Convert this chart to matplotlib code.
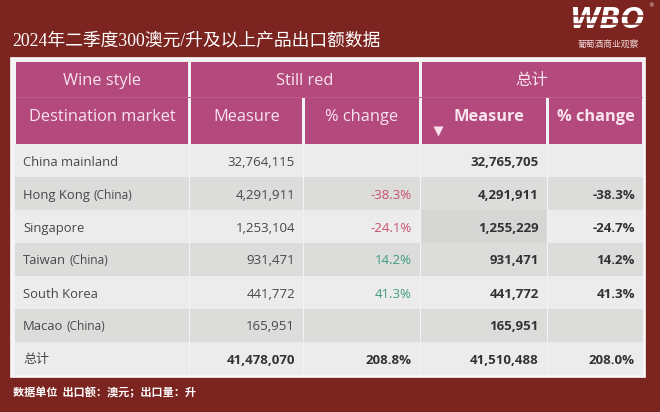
import matplotlib
matplotlib.use('Agg')
import matplotlib.pyplot as plt
from matplotlib.patches import Rectangle

# data
markets = ['China mainland', 'Hong Kong', 'Singapore', 'Taiwan', 'South Korea', 'Macao']
market_suffix = ['', '(China)', '', '(China)', '', '(China)']
red_measure = [32764115, 4291911, 1253104, 931471, 441772, 165951]
red_change = [None, -38.3, -24.1, 14.2, 41.3, None]
total_measure = [32765705, 4291911, 1255229, 931471, 441772, 165951]
total_change = [None, -38.3, -24.7, 14.2, 41.3, None]
sum_label = '总计'
sum_red_measure = 41478070
sum_red_change = 208.8
sum_total_measure = 41510488
sum_total_change = 208.0

title = '2024年二季度300澳元/升及以上产品出口额数据'
footnote = '数据单位  出口额：澳元；出口量：升'

# colours
bg = '#7c2520'
panel = '#f3f3f3'
head = '#b3497c'
head_txt = '#f9e4ee'
row_light = '#ececec'
row_dark = '#dcdcda'
txt = '#484848'
neg = '#c9506b'
pos = '#3d9c7f'

SANS = ['Open Sans', 'Noto Sans CJK SC']

fig = plt.figure(figsize=(6.6, 4.12), dpi=100)
fig.patch.set_facecolor(bg)
ax = fig.add_axes([0, 0, 1, 1])
ax.set_xlim(0, 660)
ax.set_ylim(412, 0)
ax.axis('off')

# title + logo
ax.text(12, 41, title, fontsize=12.8, color='white', va='center', ha='left',
        family=['Liberation Serif', 'Noto Sans CJK SC'])
ax.text(607, 20, 'WBO', fontsize=20, color='white', fontweight='bold', style='italic',
        va='center', ha='center', family='DejaVu Sans')
for yy in (16, 23.5):
    ax.plot([565, 652], [yy, yy], color=bg, lw=1.1, zorder=5)
ax.text(651, 6, '®', fontsize=4, color='white', va='center', ha='center')
ax.text(608, 44, '葡萄酒商业观察', fontsize=6.3, color='#f0d8d8', va='center', ha='center',
        family='Noto Sans CJK SC')

# panel
ax.add_patch(Rectangle((11, 58), 634, 319, facecolor=panel, edgecolor='#fafafa', lw=1.2))

col_x0 = [16, 191, 305, 422, 549]
col_x1 = [188, 302, 419, 546, 642]
h1, h2, h3 = 62, 97, 144
row_h = 33

# header cells
for x0, x1 in [(col_x0[0], col_x1[0]), (col_x0[1], col_x1[2]), (col_x0[3], col_x1[4])]:
    ax.add_patch(Rectangle((x0, h1), x1 - x0, h2 - h1, facecolor=head, lw=0))
for x0, x1 in zip(col_x0, col_x1):
    ax.add_patch(Rectangle((x0, h2), x1 - x0, h3 - h2, facecolor=head, lw=0))
ax.plot([col_x0[0], col_x1[4]], [h2, h2], color='#bd5a8b', lw=0.7)

hkw = dict(fontsize=11.8, color=head_txt, va='center', ha='center', family=SANS)
ax.text((col_x0[0] + col_x1[0]) / 2, 81, 'Wine style', **hkw)
ax.text((col_x0[1] + col_x1[2]) / 2, 81, 'Still red', **hkw)
ax.text((col_x0[3] + col_x1[4]) / 2, 81, '总计', **hkw)
ax.text((col_x0[0] + col_x1[0]) / 2, 117, 'Destination market', **hkw)
ax.text((col_x0[1] + col_x1[1]) / 2, 117, 'Measure', **hkw)
ax.text((col_x0[2] + col_x1[2]) / 2, 117, '% change', **hkw)
ax.text(489, 117, 'Measure', fontweight='bold', **hkw)
ax.text((col_x0[4] + col_x1[4]) / 2, 117, '% change', fontweight='bold', **hkw)
ax.plot([438], [131], marker='v', ms=7, color=head_txt, mec='none')


def fmt_pct(v):
    return '' if v is None else '%.1f%%' % v


def chg_color(v):
    if v is None:
        return txt
    return neg if v < 0 else pos


rows = []
for i in range(len(markets)):
    rows.append((markets[i], market_suffix[i], red_measure[i], red_change[i],
                 total_measure[i], total_change[i], False))
rows.append((sum_label, '', sum_red_measure, sum_red_change,
             sum_total_measure, sum_total_change, True))

for i, (name, suf, rm, rc, tm, tc, is_sum) in enumerate(rows):
    y0 = h3 + i * row_h
    yc = y0 + row_h / 2 + 1.5
    fc = row_light if i % 2 == 0 else row_dark
    for j, (x0, x1) in enumerate(zip(col_x0, col_x1)):
        c = fc
        if name == 'Singapore' and j == 3:
            c = '#d6d6d5'
        ax.add_patch(Rectangle((x0 - 1, y0), x1 - x0 + 2, row_h, facecolor=c, lw=0))
    t = ax.text(col_x0[0] + 7, yc, name, fontsize=9.4, color=txt, va='center', ha='left', family=SANS)
    if suf:
        ax.annotate(suf, xy=(1, 0), xycoords=t, xytext=(2.5, 0), textcoords='offset points',
                    fontsize=8.6, color=txt, va='bottom', ha='left', family=SANS)
    w = 'bold' if is_sum else 'normal'
    ax.text(col_x1[1] - 7, yc, '{:,}'.format(rm), fontsize=9.5, color='#333333' if is_sum else txt,
            fontweight=w, va='center', ha='right', family=SANS)
    ax.text(col_x1[2] - 7, yc, fmt_pct(rc), fontsize=9.5,
            color='#333333' if is_sum else chg_color(rc),
            fontweight=w, va='center', ha='right', family=SANS)
    ax.text(col_x1[3] - 7, yc, '{:,}'.format(tm), fontsize=9.5, color='#333333',
            fontweight='bold', va='center', ha='right', family=SANS)
    ax.text(col_x1[4] - 7, yc, fmt_pct(tc), fontsize=9.5, color='#333333',
            fontweight='bold', va='center', ha='right', family=SANS)

ax.text(13, 393, footnote, fontsize=8, color='white', fontweight='bold', va='center', ha='left',
        family='Noto Sans CJK SC')

fig.savefig('out.png', dpi=100, facecolor=bg)
